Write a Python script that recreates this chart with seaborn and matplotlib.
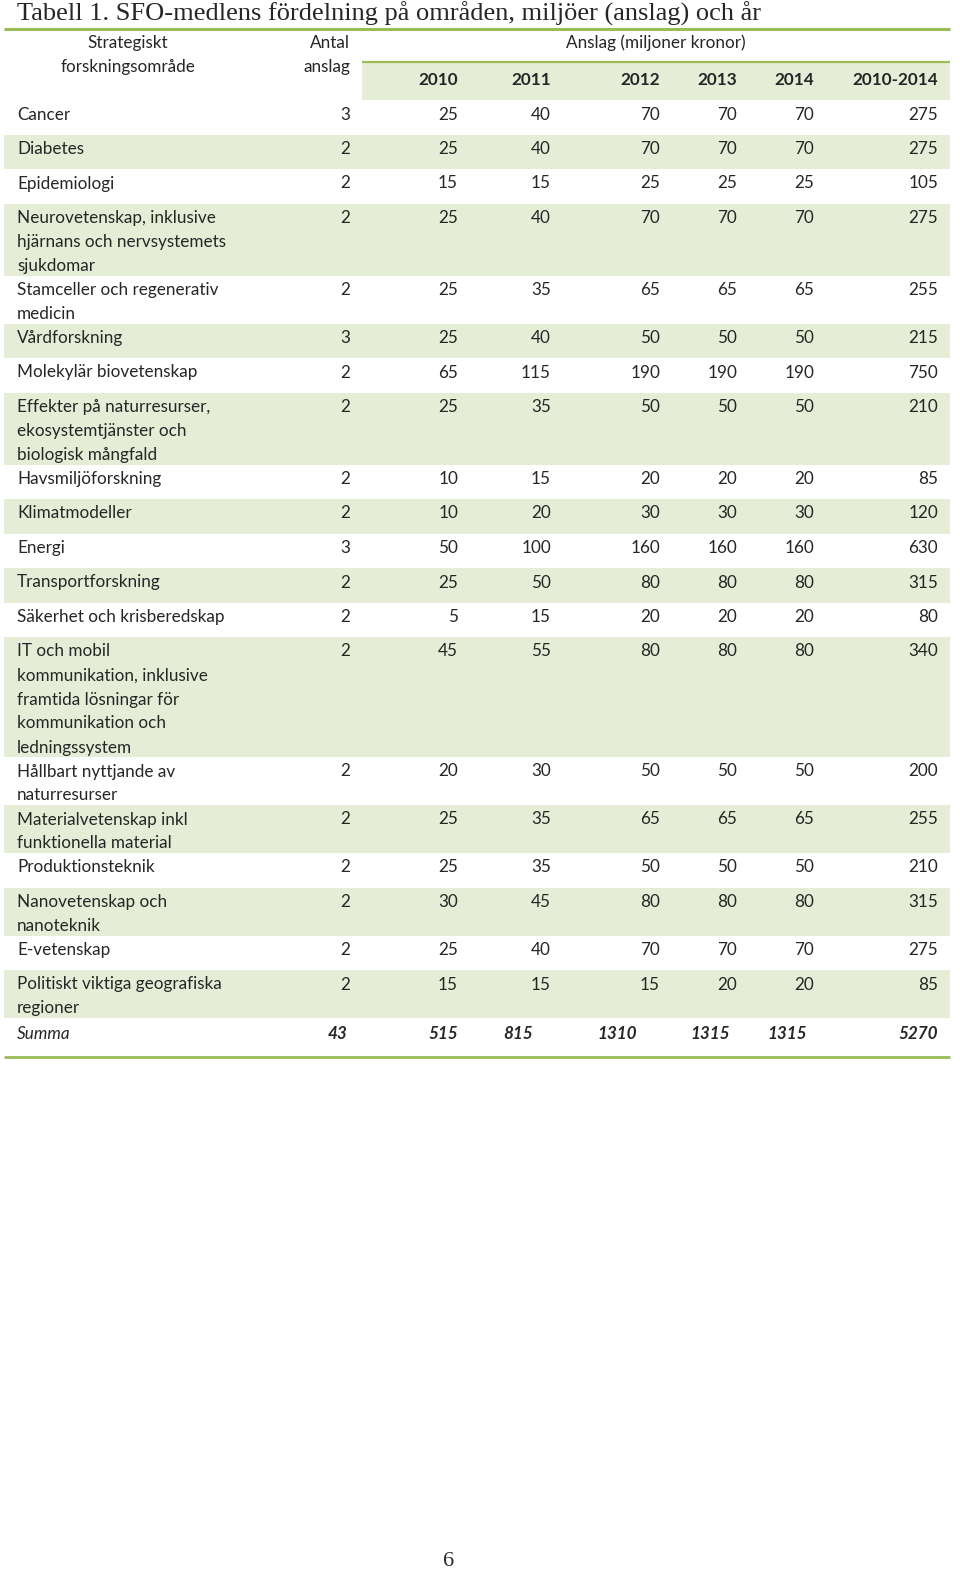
import matplotlib
matplotlib.use("Agg")
import matplotlib.pyplot as plt
import seaborn as sns

# table content
areas = [
    "Cancer",
    "Diabetes",
    "Epidemiologi",
    "Neurovetenskap, inklusive\nhjärnans och nervsystemets\nsjukdomar",
    "Stamceller och regenerativ\nmedicin",
    "Vårdforskning",
    "Molekylär biovetenskap",
    "Effekter på naturresurser,\nekosystemtjänster och\nbiologisk mångfald",
    "Havsmiljöforskning",
    "Klimatmodeller",
    "Energi",
    "Transportforskning",
    "Säkerhet och krisberedskap",
    "IT och mobil\nkommunikation, inklusive\nframtida lösningar för\nkommunikation och\nledningssystem",
    "Hållbart nyttjande av\nnaturresurser",
    "Materialvetenskap inkl\nfunktionella material",
    "Produktionsteknik",
    "Nanovetenskap och\nnanoteknik",
    "E-vetenskap",
    "Politiskt viktiga geografiska\nregioner",
]
antal = [3, 2, 2, 2, 2, 3, 2, 2, 2, 2, 3, 2, 2, 2, 2, 2, 2, 2, 2, 2]
y2010 = [25, 25, 15, 25, 25, 25, 65, 25, 10, 10, 50, 25, 5, 45, 20, 25, 25, 30, 25, 15]
y2011 = [40, 40, 15, 40, 35, 40, 115, 35, 15, 20, 100, 50, 15, 55, 30, 35, 35, 45, 40, 15]
y2012 = [70, 70, 25, 70, 65, 50, 190, 50, 20, 30, 160, 80, 20, 80, 50, 65, 50, 80, 70, 15]
y2013 = [70, 70, 25, 70, 65, 50, 190, 50, 20, 30, 160, 80, 20, 80, 50, 65, 50, 80, 70, 20]
y2014 = [70, 70, 25, 70, 65, 50, 190, 50, 20, 30, 160, 80, 20, 80, 50, 65, 50, 80, 70, 20]
total = [275, 275, 105, 275, 255, 215, 750, 210, 85, 120, 630, 315, 80, 340, 200, 255, 210, 315, 275, 85]
year_labels = ["2010", "2011", "2012", "2013", "2014", "2010-2014"]

title = "Tabell 1. SFO-medlens fördelning på områden, miljöer (anslag) och år"
green = "#9BBB59"
shade = "#E6EDD7"

sns.set_theme(style="white")
plt.rcParams["font.family"] = ["Lato", "DejaVu Sans"]

fig = plt.figure(figsize=(9.6, 15.73), dpi=100)
ax = fig.add_axes([0, 0, 1, 1])
ax.set_xlim(0, 960)
ax.set_ylim(1573, 0)
ax.axis("off")

fs = 12.3
col_x = [350, 458, 551, 660, 737, 814, 938]   # right edges of number columns
sum_x = [347, 458, 533, 637, 730, 807, 938]

# title and rule
ax.text(17, 14, title, family="Liberation Serif", fontsize=19, va="center", ha="left")
ax.plot([4, 950], [29, 29], color=green, lw=2.2, solid_capstyle="butt")

# header
ax.text(128, 43, "Strategiskt", fontsize=fs, ha="center", va="center")
ax.text(128, 67, "forskningsområde", fontsize=fs, ha="center", va="center")
ax.text(350, 43, "Antal", fontsize=fs, ha="right", va="center")
ax.text(350, 67, "anslag", fontsize=fs, ha="right", va="center")
ax.text(656, 43, "Anslag (miljoner kronor)", fontsize=fs, ha="center", va="center")
ax.add_patch(plt.Rectangle((362, 62), 588, 38, color=shade, lw=0))
ax.plot([362, 950], [62, 62], color=green, lw=1.6, solid_capstyle="butt")
for x, lab in zip(col_x[1:], year_labels):
    ax.text(x, 80, lab, fontsize=fs, fontweight="bold", ha="right", va="center")

# body rows
top = 100
for i, lab in enumerate(areas):
    lines = lab.split("\n")
    h = max(34.5, 24 * len(lines))
    if i % 2 == 1:
        ax.add_patch(plt.Rectangle((4, top), 946, h, color=shade, lw=0))
    for k, ln in enumerate(lines):
        ax.text(17, top + 14.5 + 24 * k, ln, fontsize=fs, ha="left", va="center")
    vals = [antal[i], y2010[i], y2011[i], y2012[i], y2013[i], y2014[i], total[i]]
    for x, v in zip(col_x, vals):
        ax.text(x, top + 14.5, str(v), fontsize=fs, ha="right", va="center")
    top += h

# sum row
sums = [sum(antal), sum(y2010), sum(y2011), sum(y2012), sum(y2013), sum(y2014), sum(total)]
ax.text(17, top + 16, "Summa", fontsize=fs, style="italic", ha="left", va="center")
for x, v in zip(sum_x, sums):
    ax.text(x, top + 16, str(v), fontsize=fs, style="italic", fontweight="bold",
            ha="right", va="center")
ax.plot([4, 950], [1057, 1057], color=green, lw=2, solid_capstyle="butt")

# page number
ax.text(449, 1561, "6", family="Liberation Serif", fontsize=16, ha="center", va="center")

fig.savefig("out.png", dpi=100)
